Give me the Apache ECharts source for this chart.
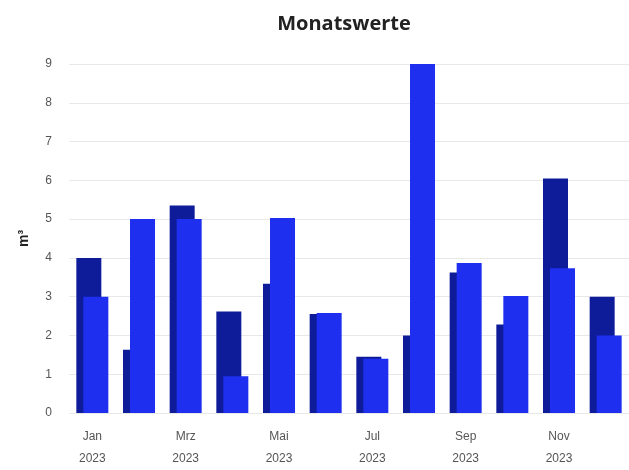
<!DOCTYPE html>
<html>
<head>
<meta charset="utf-8">
<script src="https://cdn.jsdelivr.net/npm/echarts@6/dist/echarts.min.js"></script>
<style>
  html, body { margin: 0; padding: 0; background: #fff; }
  #chart { width: 629px; height: 470px; }
</style>
</head>
<body>
<div id="chart"></div>
<script>
// Monatswerte 2023
var months = ['Jan', 'Feb', 'Mrz', 'Apr', 'Mai', 'Jun', 'Jul', 'Aug', 'Sep', 'Okt', 'Nov', 'Dez'];
var year = '2023';
var seriesDark = [4.0, 1.63, 5.35, 2.62, 3.33, 2.55, 1.45, 2.0, 3.62, 2.28, 6.05, 3.0];
var seriesBright = [3.0, 5.0, 5.0, 0.95, 5.03, 2.58, 1.4, 9.0, 3.87, 3.02, 3.73, 2.0];
var yTicks = [0, 1, 2, 3, 4, 5, 6, 7, 8, 9];

var chart = echarts.init(document.getElementById('chart'), null, { renderer: 'canvas' });

var option = {
  animation: false,
  title: {
    text: 'Monatswerte',
    left: 339,
    textAlign: 'center',
    top: 9,
    textStyle: {
      fontFamily: 'Open Sans',
      fontWeight: 'bold',
      fontSize: 20,
      color: '#222'
    }
  },
  grid: {
    left: 69,
    right: 0,
    top: 64,
    bottom: 57,
    containLabel: false,
    outerBoundsMode: 'none'
  },
  xAxis: {
    type: 'category',
    data: months,
    axisLine: { show: false },
    axisTick: { show: false },
    axisLabel: {
      interval: 1,
      margin: 13,
      color: '#555',
      fontFamily: 'Liberation Sans',
      fontSize: 12,
      lineHeight: 22,
      formatter: function (v) {
        return v + '\n' + year;
      }
    }
  },
  yAxis: {
    type: 'value',
    min: yTicks[0],
    max: yTicks[yTicks.length - 1],
    interval: 1,
    name: 'm³',
    nameLocation: 'middle',
    nameGap: 38,
    nameTextStyle: {
      fontFamily: 'Liberation Sans',
      fontWeight: 'bold',
      fontSize: 14,
      color: '#222'
    },
    axisLabel: {
      margin: 17,
      color: '#555',
      fontFamily: 'Liberation Sans',
      fontSize: 12
    },
    splitLine: {
      lineStyle: { color: '#e8e8e8', width: 1 }
    }
  },
  series: [
    {
      type: 'bar',
      data: seriesDark,
      barWidth: 25,
      barGap: '-72%',
      itemStyle: { color: '#0f1c9a' }
    },
    {
      type: 'bar',
      data: seriesBright,
      barWidth: 25,
      itemStyle: { color: '#1f2ff0' }
    }
  ]
};

chart.setOption(option);
</script>
</body>
</html>
